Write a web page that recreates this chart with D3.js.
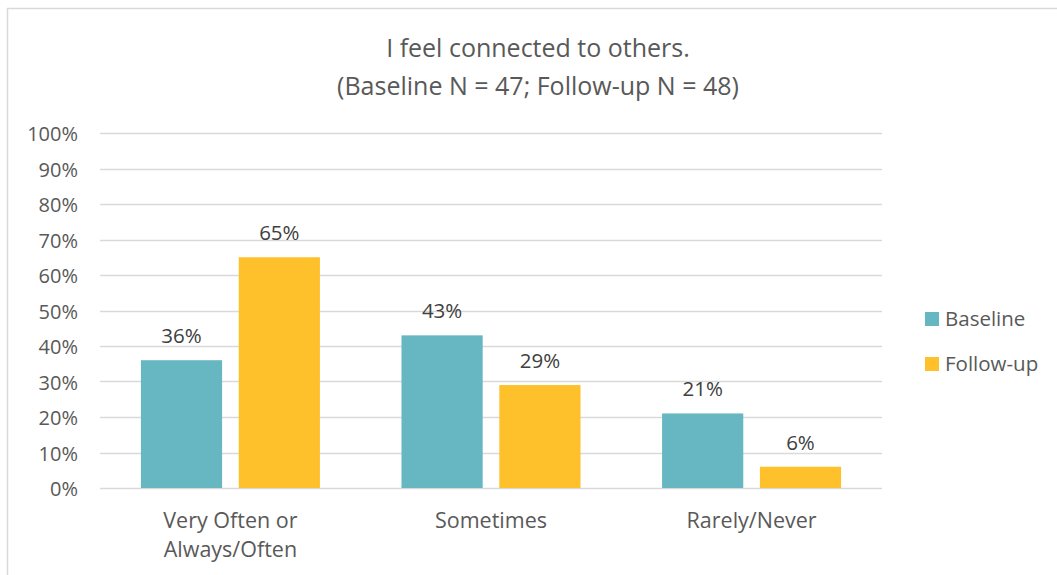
<!DOCTYPE html>
<html>
<head>
<meta charset="utf-8">
<script src="https://cdn.jsdelivr.net/npm/d3@7"></script>
<style>
  html, body { margin: 0; padding: 0; background: #fff; }
  svg { display: block; font-family: "Open Sans", "Noto Sans", sans-serif; }
</style>
</head>
<body>
<svg id="chart" width="1057" height="575"></svg>
<script>
// Survey responses: share of participants per answer, baseline vs follow-up
const categories = [["Very Often or", "Always/Often"], ["Sometimes"], ["Rarely/Never"]];
const seriesNames = ["Baseline", "Follow-up"];
const baseline = [36, 43, 21];
const followUp = [65, 29, 6];
const yTicks = [0, 10, 20, 30, 40, 50, 60, 70, 80, 90, 100];
const titleLines = ["I feel connected to others.", "(Baseline N = 47; Follow-up N = 48)"];

const colors = { "Baseline": "#67B7C3", "Follow-up": "#FFC12B" };
const textColor = "#595959";

const svg = d3.select("#chart");

// outer frame
svg.append("rect")
  .attr("x", 7.5).attr("y", 8.5)
  .attr("width", 1200).attr("height", 700)
  .attr("fill", "#fff").attr("stroke", "#D9D9D9").attr("stroke-width", 1.5);

const plot = { left: 100, right: 882, top: 133, bottom: 488 };

const y = d3.scaleLinear().domain([0, 100]).range([plot.bottom, plot.top]);

const keys = categories.map((c, i) => i);
const x0 = d3.scaleBand().domain(keys).range([plot.left, plot.right])
  .paddingInner(0.313).paddingOuter(0.157);
const x1 = d3.scaleBand().domain(seriesNames).range([0, x0.bandwidth()])
  .paddingInner(0.17).paddingOuter(0);

// gridlines
svg.append("g")
  .selectAll("line")
  .data(yTicks)
  .join("line")
  .attr("x1", plot.left).attr("x2", plot.right)
  .attr("y1", d => Math.round(y(d)) + 0.5).attr("y2", d => Math.round(y(d)) + 0.5)
  .attr("stroke", "#D9D9D9").attr("stroke-width", 1.5);

// y tick labels
svg.append("g")
  .selectAll("text")
  .data(yTicks)
  .join("text")
  .attr("x", 78).attr("y", d => y(d) + 1)
  .attr("dy", "0.35em")
  .attr("text-anchor", "end")
  .attr("fill", textColor)
  .style("font-size", "20px")
  .text(d => d + "%");

// bars
const rows = keys.map(i => ({ i, values: [
  { key: "Baseline", value: baseline[i] },
  { key: "Follow-up", value: followUp[i] }
]}));

const groups = svg.append("g").selectAll("g")
  .data(rows)
  .join("g")
  .attr("transform", d => `translate(${x0(d.i)},0)`);

groups.selectAll("rect")
  .data(d => d.values)
  .join("rect")
  .attr("x", d => x1(d.key))
  .attr("y", d => y(d.value))
  .attr("width", x1.bandwidth())
  .attr("height", d => y(0) - y(d.value))
  .attr("fill", d => colors[d.key]);

groups.selectAll("text")
  .data(d => d.values)
  .join("text")
  .attr("x", d => x1(d.key) + x1.bandwidth() / 2)
  .attr("y", d => y(d.value) - 17)
  .attr("text-anchor", "middle")
  .attr("fill", "#404040")
  .style("font-size", "20.5px")
  .text(d => d.value + "%");

// category labels
const catLabels = svg.append("g").selectAll("text")
  .data(rows)
  .join("text")
  .attr("x", d => x0(d.i) + x0.bandwidth() / 2)
  .attr("y", 528)
  .attr("text-anchor", "middle")
  .attr("fill", textColor)
  .style("font-size", "21.5px");
catLabels.selectAll("tspan")
  .data(d => categories[d.i])
  .join("tspan")
  .attr("x", function () { return d3.select(this.parentNode).attr("x"); })
  .attr("dy", (d, j) => j === 0 ? 0 : 29)
  .text(d => d);

// title
svg.append("text")
  .attr("x", 538).attr("y", 57)
  .attr("text-anchor", "middle")
  .attr("fill", textColor)
  .style("font-size", "25px")
  .selectAll("tspan")
  .data(titleLines)
  .join("tspan")
  .attr("x", 538)
  .attr("dy", (d, j) => j === 0 ? 0 : 38)
  .text(d => d);

// legend
const legend = svg.append("g").selectAll("g")
  .data(seriesNames)
  .join("g")
  .attr("transform", (d, j) => `translate(925, ${312 + j * 45})`);
legend.append("rect")
  .attr("width", 14).attr("height", 14)
  .attr("fill", d => colors[d]);
legend.append("text")
  .attr("x", 20).attr("y", 7)
  .attr("dy", "0.35em")
  .attr("fill", textColor)
  .style("font-size", "20.5px")
  .text(d => d);
</script>
</body>
</html>
